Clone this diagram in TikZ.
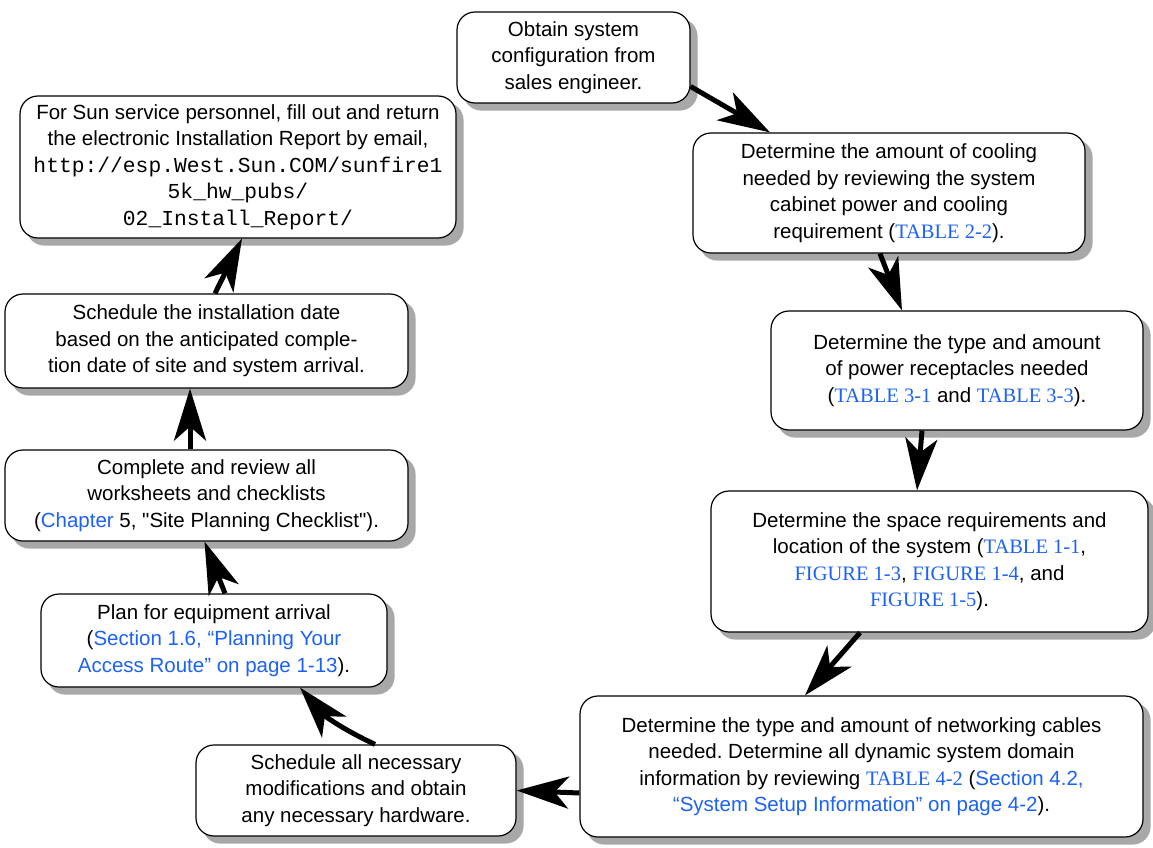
\documentclass[tikz,border=0pt]{standalone}
\usepackage{fontspec}
\setmainfont{Liberation Sans}
\setmonofont{Liberation Mono}
\newfontfamily\serifl{Liberation Serif}
\usetikzlibrary{arrows.meta,calc,backgrounds}
\definecolor{linkblue}{RGB}{28,98,245}
\definecolor{shadowgray}{RGB}{168,168,168}
\newcommand{\lk}[1]{{\color{linkblue}#1}}
\newcommand{\lks}[1]{{\color{linkblue}\serifl #1}}
\newcommand{\mono}[1]{{\ttfamily\fontsize{21.3}{26.5}\selectfont #1}}
\frenchspacing
\begin{document}
\begin{tikzpicture}[x=1pt,y=-1pt,
  box/.style={draw=black, line width=1.2pt, rounded corners=18pt, fill=white,
    inner sep=0pt, align=center, font=\fontsize{20.5}{26.5}\selectfont},
  boxshadow/.style={fill=shadowgray, draw=none, rounded corners=18pt},
  flow/.style={line width=5pt, -{Stealth[length=52pt,width=32pt,inset=14pt]}}]
\useasboundingbox (0,0) rectangle (1153,848);

\node[box, minimum width=233pt, minimum height=91pt] (b1) at (573.5,57.5)
  {Obtain system\\configuration from\\sales engineer.};
\node[box, minimum width=392pt, minimum height=120pt] (b2) at (889,193)
  {Determine the amount of cooling\\needed by reviewing the system\\cabinet power and cooling\\requirement (\lks{TABLE 2-2}).};
\node[box, minimum width=372pt, minimum height=119pt] (b3) at (957,370.5)
  {Determine the type and amount\\of power receptacles needed\\(\lks{TABLE 3-1} and \lks{TABLE 3-3}).};
\node[box, minimum width=437pt, minimum height=141pt] (b4) at (929.5,561.5)
  {Determine the space requirements and\\location of the system (\lks{TABLE 1-1},\\\lks{FIGURE 1-3}, \lks{FIGURE 1-4}, and\\\lks{FIGURE 1-5}).};
\node[box, minimum width=563pt, minimum height=141pt] (b5) at (861.5,766.5)
  {Determine the type and amount of networking cables\\needed. Determine all dynamic system domain\\information by reviewing \lks{TABLE 4-2} (\lk{Section 4.2,}\\\lk{``System Setup Information'' on page 4-2}).};
\node[box, minimum width=320pt, minimum height=91pt] (b6) at (356,790.5)
  {Schedule all necessary\\modifications and obtain\\any necessary hardware.};
\node[box, minimum width=346pt, minimum height=93pt] (b7) at (214,640.5)
  {Plan for equipment arrival\\(\lk{Section 1.6, ``Planning Your}\\\lk{Access Route'' on page 1-13}).};
\node[box, minimum width=403pt, minimum height=91pt] (b8) at (206.5,495.5)
  {Complete and review all\\worksheets and checklists\\(\lk{Chapter} 5, {\addfontfeature{Ligatures=TeXOff}"Site Planning Checklist"}).};
\node[box, minimum width=403pt, minimum height=94pt] (b9) at (206.5,341)
  {Schedule the installation date\\based on the anticipated comple-\\tion date of site and system arrival.};
\node[box, minimum width=436pt, minimum height=142pt] (b10) at (238,167)
  {For Sun service personnel, fill out and return\\the electronic Installation Report by email,\\
   \mono{http://esp.West.Sun.COM/sunfire1}\\\mono{5k\_hw\_pubs/}\\\mono{02\_Install\_Report/}};

\begin{pgfonlayer}{background}
\foreach \bx in {b1,b2,b3,b4,b5,b6,b7,b8,b9,b10}{
  \path[boxshadow] ($(\bx.south west)+(7,7)$) rectangle ($(\bx.north east)+(7,7)$);
}
\end{pgfonlayer}

\draw[flow] ([yshift=-29pt]b1.east) -- ([xshift=-119pt]b2.north);
\draw[flow] ([xshift=-9pt]b2.south) -- ([xshift=-55pt]b3.north);
\draw[flow] ([xshift=-35pt]b3.south) -- ([xshift=-12.5pt]b4.north);
\draw[flow] ([xshift=-69.5pt]b4.south) -- ([xshift=-56.5pt]b5.north);
\draw[flow] ([yshift=-26.5pt]b5.west) -- (b6.east);
\draw[flow] ([xshift=19pt]b6.north) to[bend left=12] ([xshift=86pt]b7.south);
\draw[flow] ([xshift=11pt]b7.north) -- ([xshift=-2pt]b8.south);
\draw[flow] ([xshift=-16.5pt]b8.north) -- ([xshift=-16.5pt]b9.south);
\draw[flow] ([xshift=8.5pt]b9.north) -- ([xshift=4pt]b10.south);
\end{tikzpicture}
\end{document}
